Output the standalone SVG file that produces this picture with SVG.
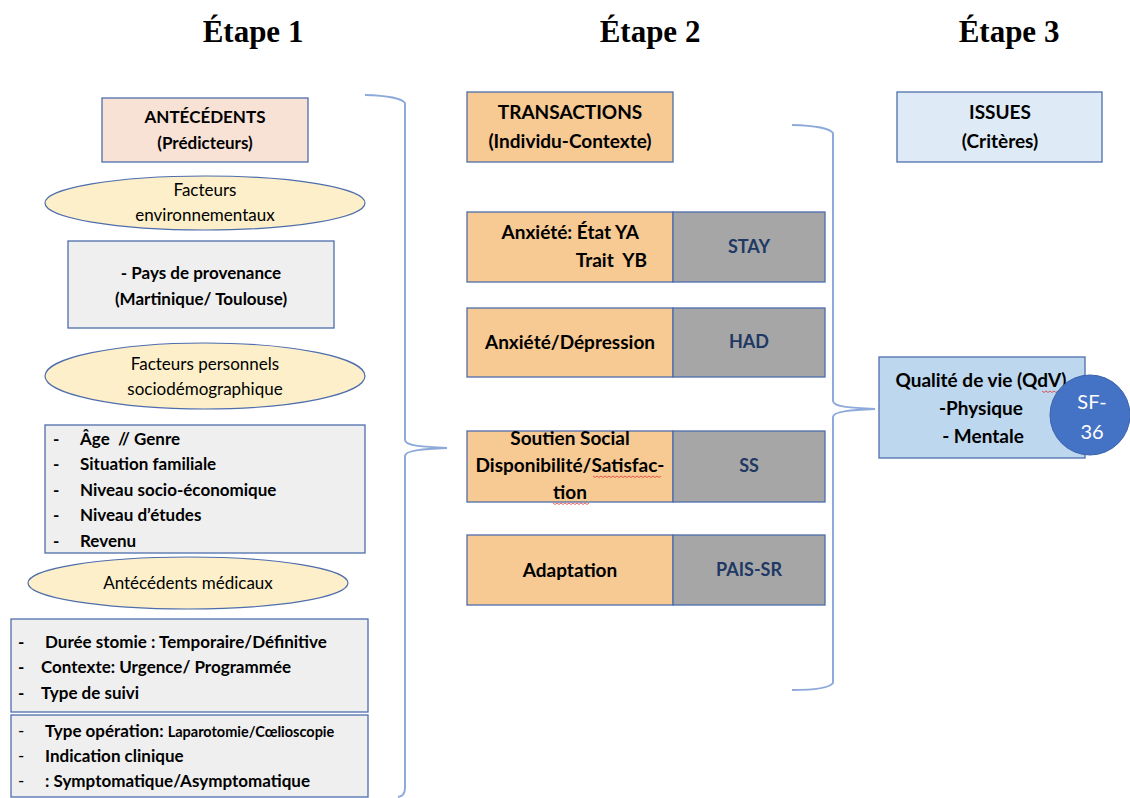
<svg xmlns="http://www.w3.org/2000/svg" width="1130" height="798" viewBox="0 0 1130 798">
  <defs>
    <style>
      .title { font-family: "Liberation Serif", "Times New Roman", serif; font-weight: bold; font-size: 31px; fill: #000; text-anchor: middle; }
      .b { font-family: Lato, "Liberation Sans", sans-serif; font-weight: bold; font-size: 17px; fill: #000; white-space: pre; }
      .m { font-family: Lato, "Liberation Sans", sans-serif; font-weight: bold; font-size: 19px; fill: #000; white-space: pre; }
      .r { font-family: Lato, "Liberation Sans", sans-serif; font-weight: normal; font-size: 17px; fill: #000; white-space: pre; }
      .c { text-anchor: middle; }
      .code { font-family: Lato, "Liberation Sans", sans-serif; font-weight: bold; font-size: 18px; fill: #203864; text-anchor: middle; }
      .box { stroke: #4e6dab; stroke-width: 1.3; }
      .head1 { fill: #f8e1d5; }
      .head2 { fill: #f7c993; }
      .head3 { fill: #deebf6; }
      .grey { fill: #efefef; }
      .oval { fill: #fcefc9; stroke: #4e6dab; stroke-width: 1.2; }
      .orange { fill: #f7c993; }
      .scale { fill: #a6a6a6; }
      .blue { fill: #bdd7ee; }
      .brace { fill: none; stroke: #8eaadb; stroke-width: 2; }
      .spell { fill: none; stroke: #e03a3a; stroke-width: 0.8; }
    </style>
  </defs>

  <!-- column headings -->
  <text class="title" x="253" y="42">Étape 1</text>
  <text class="title" x="650" y="42">Étape 2</text>
  <text class="title" x="1009" y="42">Étape 3</text>

  <!-- connectors: curly braces grouping each stage -->
  <g id="connectors">
    <path class="brace" d="M365,95 Q400,96 405,103 L405,440 C405,446 425,447 447,448 C425,449 405,450 405,456 L405,788 Q405,796 398,797"/>
    <path class="brace" d="M792,125 Q828,126 833,133 L833,401 C833,407 853,408 875,409 C853,410 833,411 833,417 L833,683 Q828,690 792,690"/>
  </g>

  <!-- stage 1: antecedents -->
  <g id="antecedents">
    <rect class="box head1" x="102" y="98" width="206" height="64"/>
    <text class="b c" x="205" y="123">ANTÉCÉDENTS</text>
    <text class="b c" x="205" y="149">(Prédicteurs)</text>
  </g>

  <g id="env-factors">
    <ellipse class="oval" cx="205" cy="203" rx="160" ry="27"/>
    <text class="r c" x="205" y="196">Facteurs</text>
    <text class="r c" x="205" y="221">environnementaux</text>
  </g>

  <g id="origin">
    <rect class="box grey" x="68" y="241" width="266" height="87"/>
    <text class="b c" x="201" y="279">- Pays de provenance</text>
    <text class="b c" x="201" y="305">(Martinique/ Toulouse)</text>
  </g>

  <g id="personal-factors">
    <ellipse class="oval" cx="205" cy="376" rx="160" ry="33"/>
    <text class="r c" x="205" y="370">Facteurs personnels</text>
    <text class="r c" x="205" y="395">sociodémographique</text>
  </g>

  <g id="socio-list">
    <rect class="box grey" x="45" y="425" width="320" height="128"/>
    <text class="b" x="53" y="445">-</text><text class="b" x="80" y="445">Âge  // Genre</text>
    <text class="b" x="53" y="470">-</text><text class="b" x="80" y="470">Situation familiale</text>
    <text class="b" x="53" y="496">-</text><text class="b" x="80" y="496">Niveau socio-économique</text>
    <text class="b" x="53" y="521">-</text><text class="b" x="80" y="521">Niveau d’études</text>
    <text class="b" x="53" y="547">-</text><text class="b" x="80" y="547">Revenu</text>
  </g>

  <g id="medical-history">
    <ellipse class="oval" cx="188" cy="583" rx="160" ry="26"/>
    <text class="r c" x="188" y="589">Antécédents médicaux</text>
  </g>

  <g id="stoma-list">
    <rect class="box grey" x="11" y="619" width="357" height="93"/>
    <text class="b" x="18" y="648">-</text><text class="b" x="45" y="648">Durée stomie : Temporaire/Définitive</text>
    <text class="b" x="18" y="673">-</text><text class="b" x="41" y="673">Contexte: Urgence/ Programmée</text>
    <text class="b" x="18" y="699">-</text><text class="b" x="41" y="699">Type de suivi</text>
  </g>

  <g id="surgery-list">
    <rect class="box grey" x="11" y="715" width="357" height="82"/>
    <text class="r" x="18" y="737">-</text><text class="b" x="45" y="737">Type opération: <tspan style="font-size:14.5px">Laparotomie/Cœlioscopie</tspan></text>
    <text class="r" x="18" y="762">-</text><text class="b" x="45" y="762">Indication clinique</text>
    <text class="r" x="18" y="787">-</text><text class="b" x="45" y="787">: Symptomatique/Asymptomatique</text>
  </g>

  <!-- stage 2: transactions -->
  <g id="transactions">
    <rect class="box head2" x="467" y="92" width="206" height="70"/>
    <text class="m c" x="570" y="119">TRANSACTIONS</text>
    <text class="m c" x="570" y="148">(Individu-Contexte)</text>
  </g>

  <g id="anxiety-state">
    <rect class="box orange" x="467" y="212" width="206" height="70"/>
    <rect class="box scale" x="673" y="212" width="152" height="70"/>
    <text class="m" x="639" y="239" text-anchor="end">Anxiété: État YA</text>
    <text class="m" x="647" y="267" text-anchor="end">Trait  YB</text>
    <text class="code" x="749" y="253">STAY</text>
  </g>

  <g id="anxiety-depression">
    <rect class="box orange" x="467" y="308" width="206" height="69"/>
    <rect class="box scale" x="673" y="308" width="152" height="69"/>
    <text class="m c" x="570" y="349">Anxiété/Dépression</text>
    <text class="code" x="749" y="348">HAD</text>
  </g>

  <g id="social-support">
    <rect class="box orange" x="467" y="431" width="206" height="71"/>
    <rect class="box scale" x="673" y="431" width="152" height="71"/>
    <text class="m c" x="570" y="445">Soutien Social</text>
    <text class="m c" x="570" y="472">Disponibilité/Satisfac-</text>
    <text class="m c" x="570" y="499">tion</text>
    <path class="spell" d="M593,476 l2,1.5 l2,-1.5 l2,1.5 l2,-1.5 l2,1.5 l2,-1.5 l2,1.5 l2,-1.5 l2,1.5 l2,-1.5 l2,1.5 l2,-1.5 l2,1.5 l2,-1.5 l2,1.5 l2,-1.5 l2,1.5 l2,-1.5 l2,1.5 l2,-1.5 l2,1.5 l2,-1.5 l2,1.5 l2,-1.5 l2,1.5 l2,-1.5 l2,1.5 l2,-1.5 l2,1.5 l2,-1.5 l2,1.5 l2,-1.5 l2,1.5 l2,-1.5"/>
    <path class="spell" d="M553,503 l2,1.5 l2,-1.5 l2,1.5 l2,-1.5 l2,1.5 l2,-1.5 l2,1.5 l2,-1.5 l2,1.5 l2,-1.5 l2,1.5 l2,-1.5 l2,1.5 l2,-1.5 l2,1.5 l2,-1.5 l2,1.5 l2,-1.5"/>
    <text class="code" x="749" y="472">SS</text>
  </g>

  <g id="adaptation">
    <rect class="box orange" x="467" y="535" width="206" height="70"/>
    <rect class="box scale" x="673" y="535" width="152" height="70"/>
    <text class="m c" x="570" y="577">Adaptation</text>
    <text class="code" x="749" y="576">PAIS-SR</text>
  </g>

  <!-- stage 3: outcomes -->
  <g id="issues">
    <rect class="box head3" x="897" y="92" width="205" height="70"/>
    <text class="m c" x="1000" y="119">ISSUES</text>
    <text class="m c" x="1000" y="148">(Critères)</text>
  </g>

  <g id="quality-of-life">
    <rect class="box blue" x="879" y="357" width="206" height="101"/>
    <text class="m c" x="981" y="387">Qualité de vie (QdV)</text>
    <text class="m c" x="981" y="415">-Physique</text>
    <text class="m c" x="983" y="443">- Mentale</text>
    <path class="spell" d="M1042,391 l2,1.5 l2,-1.5 l2,1.5 l2,-1.5 l2,1.5 l2,-1.5 l2,1.5 l2,-1.5 l2,1.5 l2,-1.5 l2,1.5 l2,-1.5 l2,1.5"/>
  </g>

  <g id="sf36">
    <circle cx="1090" cy="415" r="40" fill="#4472c4" stroke="#3a62aa" stroke-width="1"/>
    <text class="r c" x="1092" y="409" style="fill:#fff;font-size:20px">SF-</text>
    <text class="r c" x="1092" y="439" style="fill:#fff;font-size:20px">36</text>
  </g>
</svg>
